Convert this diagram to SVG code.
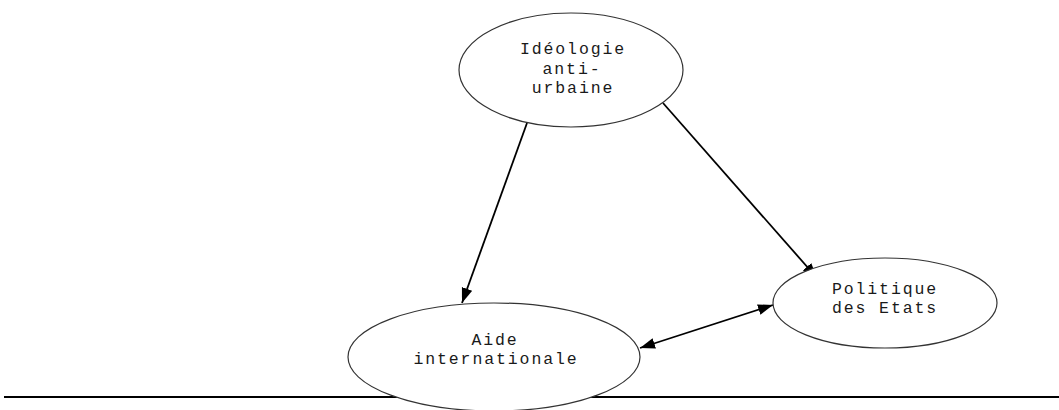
<svg xmlns="http://www.w3.org/2000/svg" width="1059" height="410" viewBox="0 0 1059 410">
<style>
.node ellipse{fill:#fff;stroke:#333;stroke-width:1.2}
.node text{font-family:"Liberation Mono","Courier New",monospace;font-size:16.5px;letter-spacing:1.9px;fill:#1a1a1a;text-anchor:middle}
.conn line{stroke:#000;stroke-width:1.8;fill:none}
</style>
<defs>
<marker id="ah" markerUnits="userSpaceOnUse" markerWidth="16" markerHeight="12" refX="15" refY="5.5" orient="auto-start-reverse">
<path d="M0,0 L15,5.5 L0,11 z" fill="#000"/>
</marker>
</defs>
<line x1="4" y1="397" x2="1059" y2="397" stroke="#000" stroke-width="2"/>
<g id="conn" class="conn">
<line x1="527" y1="123" x2="462" y2="303" marker-end="url(#ah)"/>
<line x1="663" y1="103" x2="817" y2="278" marker-end="url(#ah)"/>
<line x1="640" y1="348" x2="773" y2="305" marker-start="url(#ah)" marker-end="url(#ah)"/>
</g>
<g id="ideologie" class="node">
<ellipse cx="571" cy="70" rx="112" ry="57"/>
<text x="573" y="54">Idéologie</text>
<text x="572" y="74">anti-</text>
<text x="573" y="93">urbaine</text>
</g>
<g id="aide" class="node">
<ellipse cx="494" cy="357" rx="146" ry="54"/>
<text x="495" y="345">Aide</text>
<text x="496" y="364">internationale</text>
</g>
<g id="politique" class="node">
<ellipse cx="885" cy="303" rx="112" ry="45"/>
<text x="885" y="294">Politique</text>
<text x="885" y="313">des Etats</text>
</g>
</svg>
